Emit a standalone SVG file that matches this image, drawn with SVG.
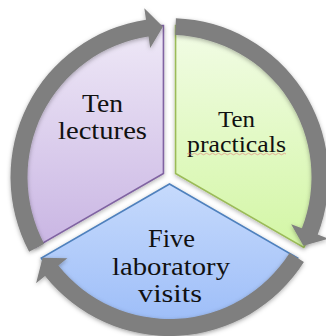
<svg xmlns="http://www.w3.org/2000/svg" width="326" height="336" viewBox="0 0 326 336">
<style>
.lbl{font-family:"Liberation Serif","Times New Roman",serif;fill:#111;text-anchor:middle}
.arrow{fill:#7f7f7f;filter:url(#sh)}
.sec{stroke-width:1.6;filter:url(#sh)}
</style>
<defs>
<linearGradient id="gL" x1="0" y1="0" x2="0" y2="1"><stop offset="0" stop-color="#efe9f7"/><stop offset="1" stop-color="#c9b5e3"/></linearGradient>
<linearGradient id="gP" x1="0" y1="0" x2="0" y2="1"><stop offset="0" stop-color="#f2fce6"/><stop offset="1" stop-color="#d3f6a5"/></linearGradient>
<linearGradient id="gV" x1="0" y1="0" x2="0" y2="1"><stop offset="0" stop-color="#c6dafc"/><stop offset="1" stop-color="#9bbcf8"/></linearGradient>
<filter id="sh" x="-10%" y="-10%" width="120%" height="120%"><feDropShadow dx="0" dy="1.5" stdDeviation="2" flood-color="#000" flood-opacity="0.3"/></filter>
</defs>
<g id="lectures">
<path class="sec" fill="url(#gL)" stroke="#8064a2" d="M163.44 173.5 L163.44 25.5 A148 148 0 0 0 35.27 247.5 Z"/>
<text class="lbl" x="102.5" y="112" font-size="24.5" textLength="41" lengthAdjust="spacingAndGlyphs">Ten</text>
<text class="lbl" x="102.5" y="139" font-size="24.5" textLength="89" lengthAdjust="spacingAndGlyphs">lectures</text>
</g>
<g id="practicals">
<path class="sec" fill="url(#gP)" stroke="#9bbb59" d="M175.56 173.5 L175.56 25.5 A148 148 0 0 1 303.73 247.5 Z"/>
<text class="lbl" x="236.5" y="127" font-size="22.5" textLength="37" lengthAdjust="spacingAndGlyphs">Ten</text>
<text class="lbl" x="236.5" y="152" font-size="22.5" textLength="99" lengthAdjust="spacingAndGlyphs">practicals</text>
<path d="M187 154 q1.5 -1.5 3 0 t3 0 t3 0 t3 0 t3 0 t3 0 t3 0 t3 0 t3 0 t3 0 t3 0 t3 0 t3 0 t3 0 t3 0 t3 0 t3 0 t3 0 t3 0 t3 0 t3 0 t3 0 t3 0 t3 0 t3 0 t3 0 t3 0 t3 0 t3 0 t3 0 t3 0 t3 0 t3 0" fill="none" stroke="#e57373" stroke-width="0.8" opacity="0.7"/>
</g>
<g id="visits">
<path class="sec" fill="url(#gV)" stroke="#4f81bd" d="M169.5 184 L297.67 258 A148 148 0 0 1 41.33 258 Z"/>
<text class="lbl" x="171.5" y="247" font-size="24.5" textLength="47" lengthAdjust="spacingAndGlyphs">Five</text>
<text class="lbl" x="171" y="275" font-size="24.5" textLength="118" lengthAdjust="spacingAndGlyphs">laboratory</text>
<text class="lbl" x="170" y="302" font-size="24.5" textLength="64" lengthAdjust="spacingAndGlyphs">visits</text>
</g>
<g id="connectors">
<path class="arrow" d="M29.11 251.65 A159 159 0 0 1 146.00 19.75 L144.30 8.37 L162.94 26.64 L150.21 47.93 L148.51 36.56 A142 142 0 0 0 44.12 243.66 Z"/>
<path class="arrow" d="M175.88 18.13 A159 159 0 0 1 317.74 234.50 L328.46 238.66 L303.36 245.79 L291.17 224.19 L301.89 228.35 A142 142 0 0 0 175.20 35.11 Z"/>
<path class="arrow" d="M303.90 261.96 A159 159 0 0 1 45.06 275.98 L36.07 283.14 L42.57 257.86 L67.37 258.24 L58.37 265.40 A142 142 0 0 0 289.53 252.88 Z"/>
</g>
</svg>
